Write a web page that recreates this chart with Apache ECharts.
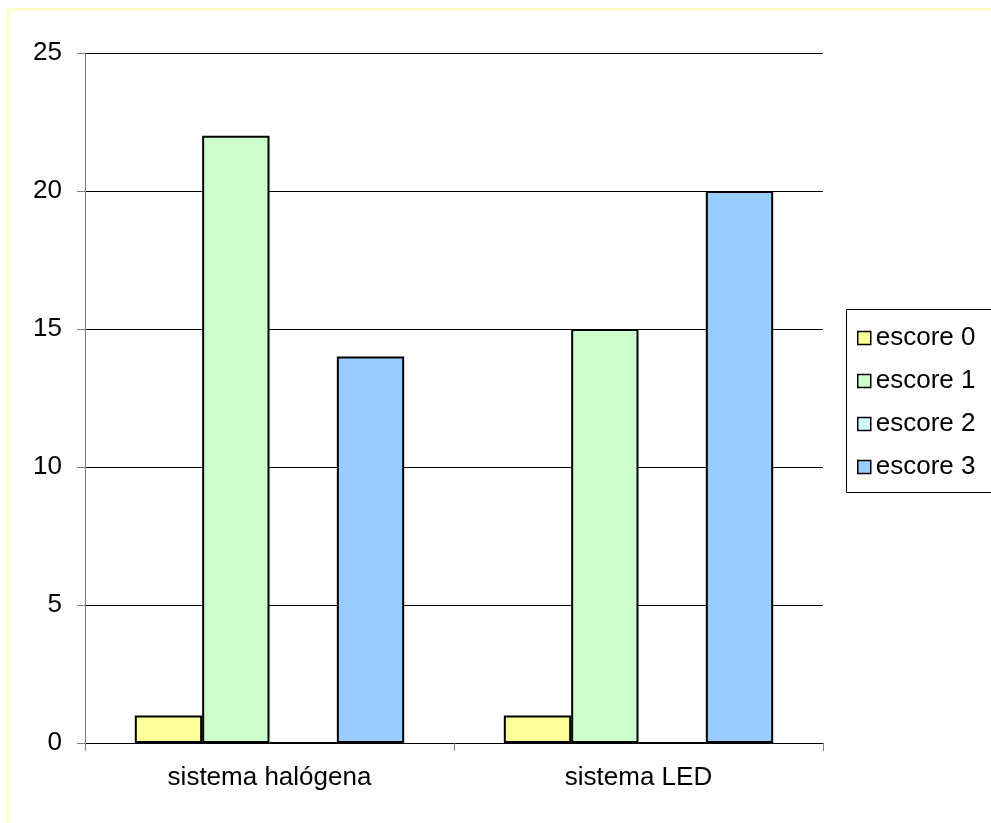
<!DOCTYPE html>
<html>
<head>
<meta charset="utf-8">
<title>escore por sistema</title>
<script src="https://cdn.jsdelivr.net/npm/echarts@6/dist/echarts.min.js"></script>
<style>
  html, body { margin: 0; padding: 0; background: #ffffff; }
  #chart { width: 991px; height: 823px; }
</style>
</head>
<body>
<div id="chart"></div>
<script>
// Categories and scores per system
var categories = ['sistema halógena', 'sistema LED'];
var seriesNames = ['escore 0', 'escore 1', 'escore 2', 'escore 3'];
var escore0 = [1, 1];
var escore1 = [22, 15];
var escore2 = [0, 0];
var escore3 = [14, 20];
var yTicks = [0, 5, 10, 15, 20, 25];

var colors = ['#ffff99', '#ccffcc', '#ccffff', '#99ccff'];
var values = [escore0, escore1, escore2, escore3];
var font = 'Arial, "Liberation Sans", sans-serif';

var chart = echarts.init(document.getElementById('chart'), null, { renderer: 'canvas' });

var series = seriesNames.map(function (name, i) {
  return {
    name: name,
    type: 'bar',
    data: values[i],
    barGap: '0%',
    barCategoryGap: '27%',
    itemStyle: { color: colors[i], borderColor: '#000000', borderWidth: 2 },
    emphasis: { disabled: true },
    animation: false
  };
});

chart.setOption({
  animation: false,
  backgroundColor: '#ffffff',
  textStyle: { fontFamily: font },
  graphic: [
    {
      type: 'rect',
      z: -10,
      shape: { x: 8.5, y: 9.5, width: 1100, height: 1000 },
      style: { fill: null, stroke: '#ffffcc', lineWidth: 3 }
    },
    {
      type: 'rect',
      z: 0,
      shape: { x: 846.5, y: 309.5, width: 200, height: 183 },
      style: { fill: '#ffffff', stroke: '#000000', lineWidth: 1 }
    }
  ],
  grid: { left: 85, right: 168, top: 53, bottom: 80, containLabel: false },
  legend: {
    orient: 'vertical',
    left: 852,
    top: 320,
    z: 5,
    itemWidth: 13,
    itemHeight: 13,
    itemGap: 17,
    icon: 'rect',
    data: seriesNames,
    textStyle: { fontFamily: font, fontSize: 26, color: '#000000', lineHeight: 26 },
    itemStyle: { borderColor: '#000000', borderWidth: 1.5 },
    selectedMode: false
  },
  xAxis: {
    type: 'category',
    data: categories,
    boundaryGap: true,
    axisLine: { show: true, lineStyle: { color: '#000000', width: 1 } },
    axisTick: { show: true, length: 8, alignWithLabel: false, lineStyle: { color: '#808080' } },
    axisLabel: { fontFamily: font, fontSize: 26, color: '#000000', margin: 22 }
  },
  yAxis: {
    type: 'value',
    min: yTicks[0],
    max: yTicks[yTicks.length - 1],
    interval: yTicks[1] - yTicks[0],
    axisLine: { show: true, lineStyle: { color: '#808080', width: 1 } },
    axisTick: { show: true, length: 8, lineStyle: { color: '#808080' } },
    axisLabel: { fontFamily: font, fontSize: 26, color: '#000000', margin: 23 },
    splitLine: { show: true, lineStyle: { color: '#000000', width: 1 } }
  },
  series: series
});
</script>
</body>
</html>
